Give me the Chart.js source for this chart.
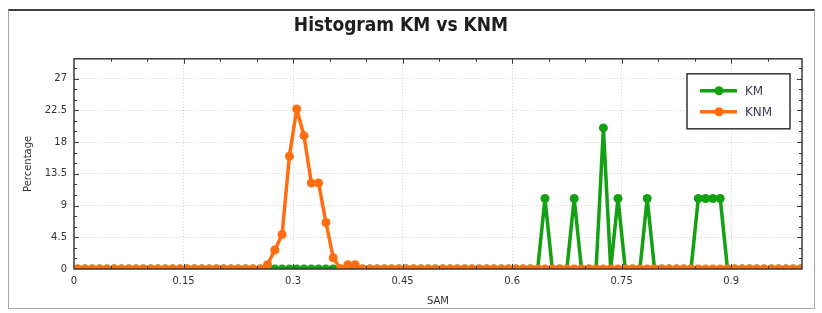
<!DOCTYPE html>
<html>
<head>
<meta charset="utf-8">
<title>Histogram KM vs KNM</title>
<script src="https://cdn.jsdelivr.net/npm/chart.js@4.4.1/dist/chart.umd.min.js"></script>
<style>
  html, body { margin: 0; padding: 0; background: #fff; }
  #frame {
    position: absolute; left: 8px; top: 9px; width: 807px; height: 300px;
    border: 1px solid #a8a8a8; border-top: 2px solid #404040; box-sizing: border-box;
  }
  #wrap { position: absolute; left: 0; top: 0; width: 822px; height: 313px; }
</style>
</head>
<body>
<div id="frame"></div>
<div id="wrap"><canvas id="histChart" width="822" height="313"></canvas></div>
<script>
// Bin centres (SAM)
const bins = [
  0.005, 0.015, 0.025, 0.035, 0.045, 0.055, 0.065, 0.075, 0.085, 0.095,
  0.105, 0.115, 0.125, 0.135, 0.145, 0.155, 0.165, 0.175, 0.185, 0.195,
  0.205, 0.215, 0.225, 0.235, 0.245, 0.255, 0.265, 0.275, 0.285, 0.295,
  0.305, 0.315, 0.325, 0.335, 0.345, 0.355, 0.365, 0.375, 0.385, 0.395,
  0.405, 0.415, 0.425, 0.435, 0.445, 0.455, 0.465, 0.475, 0.485, 0.495,
  0.505, 0.515, 0.525, 0.535, 0.545, 0.555, 0.565, 0.575, 0.585, 0.595,
  0.605, 0.615, 0.625, 0.635, 0.645, 0.655, 0.665, 0.675, 0.685, 0.695,
  0.705, 0.715, 0.725, 0.735, 0.745, 0.755, 0.765, 0.775, 0.785, 0.795,
  0.805, 0.815, 0.825, 0.835, 0.845, 0.855, 0.865, 0.875, 0.885, 0.895,
  0.905, 0.915, 0.925, 0.935, 0.945, 0.955, 0.965, 0.975, 0.985, 0.995
];

// Percentage per bin
const kmValues = [
  0, 0, 0, 0, 0, 0, 0, 0, 0, 0,
  0, 0, 0, 0, 0, 0, 0, 0, 0, 0,
  0, 0, 0, 0, 0, 0, 0, 0, 0, 0,
  0, 0, 0, 0, 0, 0, 0, 0, 0, 0,
  0, 0, 0, 0, 0, 0, 0, 0, 0, 0,
  0, 0, 0, 0, 0, 0, 0, 0, 0, 0,
  0, 0, 0, 0, 10, 0, 0, 0, 10, 0,
  0, 0, 20, 0, 10, 0, 0, 0, 10, 0,
  0, 0, 0, 0, 0, 10, 10, 10, 10, 0,
  0, 0, 0, 0, 0, 0, 0, 0, 0, 0
];

const knmValues = [
  0, 0, 0, 0, 0, 0, 0, 0, 0, 0,
  0, 0, 0, 0, 0, 0, 0, 0, 0, 0,
  0, 0, 0, 0, 0, 0, 0.6, 2.7, 4.9, 16.0,
  22.7, 18.9, 12.2, 12.2, 6.6, 1.6, 0, 0.6, 0.6, 0,
  0, 0, 0, 0, 0, 0, 0, 0, 0, 0,
  0, 0, 0, 0, 0, 0, 0, 0, 0, 0,
  0, 0, 0, 0, 0, 0, 0, 0, 0, 0,
  0, 0, 0, 0, 0, 0, 0, 0, 0, 0,
  0, 0, 0, 0, 0, 0, 0, 0, 0, 0,
  0, 0, 0, 0, 0, 0, 0, 0, 0, 0
];

const xTicks = [0, 0.15, 0.3, 0.45, 0.6, 0.75, 0.9];
const yTicks = [0, 4.5, 9, 13.5, 18, 22.5, 27];

const kmColor = '#13a013';
const knmColor = '#ff6d0e';
const axisFont = { family: '"DejaVu Sans", sans-serif', size: 10 };
const textColor = '#333';

// frame round the plot, inward tick marks, boxed legend
const framePlugin = {
  id: 'frameTicks',
  afterDatasetsDraw(chart) {
    const { ctx, chartArea: a, scales: { x, y } } = chart;
    ctx.save();
    ctx.strokeStyle = '#3a3a3a';
    ctx.lineWidth = 1.5;
    ctx.strokeRect(a.left, a.top, a.right - a.left, a.bottom - a.top);
    ctx.lineWidth = 1;
    ctx.beginPath();
    for (let k = 1; k * 0.05 < x.max; k++) {
      const px = Math.round(x.getPixelForValue(k * 0.05)) + 0.5;
      const len = k % 3 === 0 ? 5 : 3;
      ctx.moveTo(px, a.bottom); ctx.lineTo(px, a.bottom - len);
      ctx.moveTo(px, a.top); ctx.lineTo(px, a.top + len);
    }
    for (let k = 1; k * 1.5 < y.max; k++) {
      const py = Math.round(y.getPixelForValue(k * 1.5)) + 0.5;
      const len = k % 3 === 0 ? 5 : 3;
      ctx.moveTo(a.left, py); ctx.lineTo(a.left + len, py);
      ctx.moveTo(a.right, py); ctx.lineTo(a.right - len, py);
    }
    ctx.stroke();
    ctx.restore();
  },
  afterDraw(chart) {
    const { ctx, chartArea: a } = chart;
    const bx = a.right - 115, by = a.top + 15, bw = 103, bh = 55;
    ctx.save();
    ctx.fillStyle = '#fff';
    ctx.fillRect(bx, by, bw, bh);
    ctx.strokeStyle = '#333';
    ctx.lineWidth = 1.5;
    ctx.strokeRect(bx, by, bw, bh);
    ctx.font = '12px "DejaVu Sans", sans-serif';
    ctx.textBaseline = 'middle';
    chart.data.datasets.forEach((ds, i) => {
      const cy = by + 17 + i * 21;
      ctx.strokeStyle = ds.borderColor;
      ctx.lineWidth = 3.5;
      ctx.beginPath();
      ctx.moveTo(bx + 13, cy); ctx.lineTo(bx + 50, cy);
      ctx.stroke();
      ctx.fillStyle = ds.borderColor;
      ctx.beginPath();
      ctx.arc(bx + 32, cy, 4.5, 0, Math.PI * 2);
      ctx.fill();
      ctx.fillStyle = '#3c3c55';
      ctx.fillText(ds.label, bx + 58, cy + 1);
    });
    ctx.restore();
  }
};

const ctxHist = document.getElementById('histChart').getContext('2d');
const histChart = new Chart(ctxHist, {
  type: 'line',
  data: {
    datasets: [{
      label: 'KM',
      data: bins.map((b, i) => ({ x: b, y: kmValues[i] })),
      borderColor: kmColor,
      backgroundColor: kmColor,
      borderWidth: 3.5,
      borderJoinStyle: 'round',
      pointRadius: 4.5,
      pointBorderWidth: 0,
      order: 1
    }, {
      label: 'KNM',
      data: bins.map((b, i) => ({ x: b, y: knmValues[i] })),
      borderColor: knmColor,
      backgroundColor: knmColor,
      borderWidth: 3.5,
      borderJoinStyle: 'round',
      pointRadius: 4.5,
      pointBorderWidth: 0,
      order: 0
    }]
  },
  options: {
    responsive: false,
    animation: false,
    layout: { padding: { left: 0, right: 20, top: 0, bottom: 0 } },
    scales: {
      x: {
        type: 'linear',
        min: 0,
        max: 0.997,
        afterBuildTicks: s => { s.ticks = xTicks.map(v => ({ value: v })); },
        afterFit: s => { s.height = 44; },
        ticks: {
          font: axisFont, color: textColor, padding: 6, maxRotation: 0, autoSkip: false,
          callback: v => String(v)
        },
        grid: {
          drawTicks: false,
          color: c => (c.tick && c.tick.value === 0) ? 'rgba(0,0,0,0)' : '#d0d0d0'
        },
        border: { display: false, dash: [1, 2] },
        title: {
          display: true, text: 'SAM', color: textColor,
          font: { family: '"DejaVu Sans", sans-serif', size: 10 },
          padding: { top: 2, bottom: 6 }
        }
      },
      y: {
        type: 'linear',
        min: 0,
        max: 29.8,
        afterBuildTicks: s => { s.ticks = yTicks.map(v => ({ value: v })); },
        afterFit: s => { s.width = 74; },
        ticks: { font: axisFont, color: textColor, padding: 7, callback: v => String(v) },
        grid: {
          drawTicks: false,
          color: c => (c.tick && c.tick.value === 0) ? 'rgba(0,0,0,0)' : '#d0d0d0'
        },
        border: { display: false, dash: [1, 2] },
        title: {
          display: true, text: 'Percentage', color: textColor,
          font: { family: '"DejaVu Sans", sans-serif', size: 10 },
          padding: { top: 22, bottom: 0 }
        }
      }
    },
    plugins: {
      legend: { display: false },
      tooltip: { enabled: false },
      title: {
        display: true,
        text: 'Histogram KM vs KNM',
        color: '#1e1e1e',
        font: { family: '"DejaVu Sans Condensed", sans-serif', size: 19, weight: 'bold' },
        padding: { top: 15, bottom: 21 }
      }
    }
  },
  plugins: [framePlugin]
});
</script>
</body>
</html>
